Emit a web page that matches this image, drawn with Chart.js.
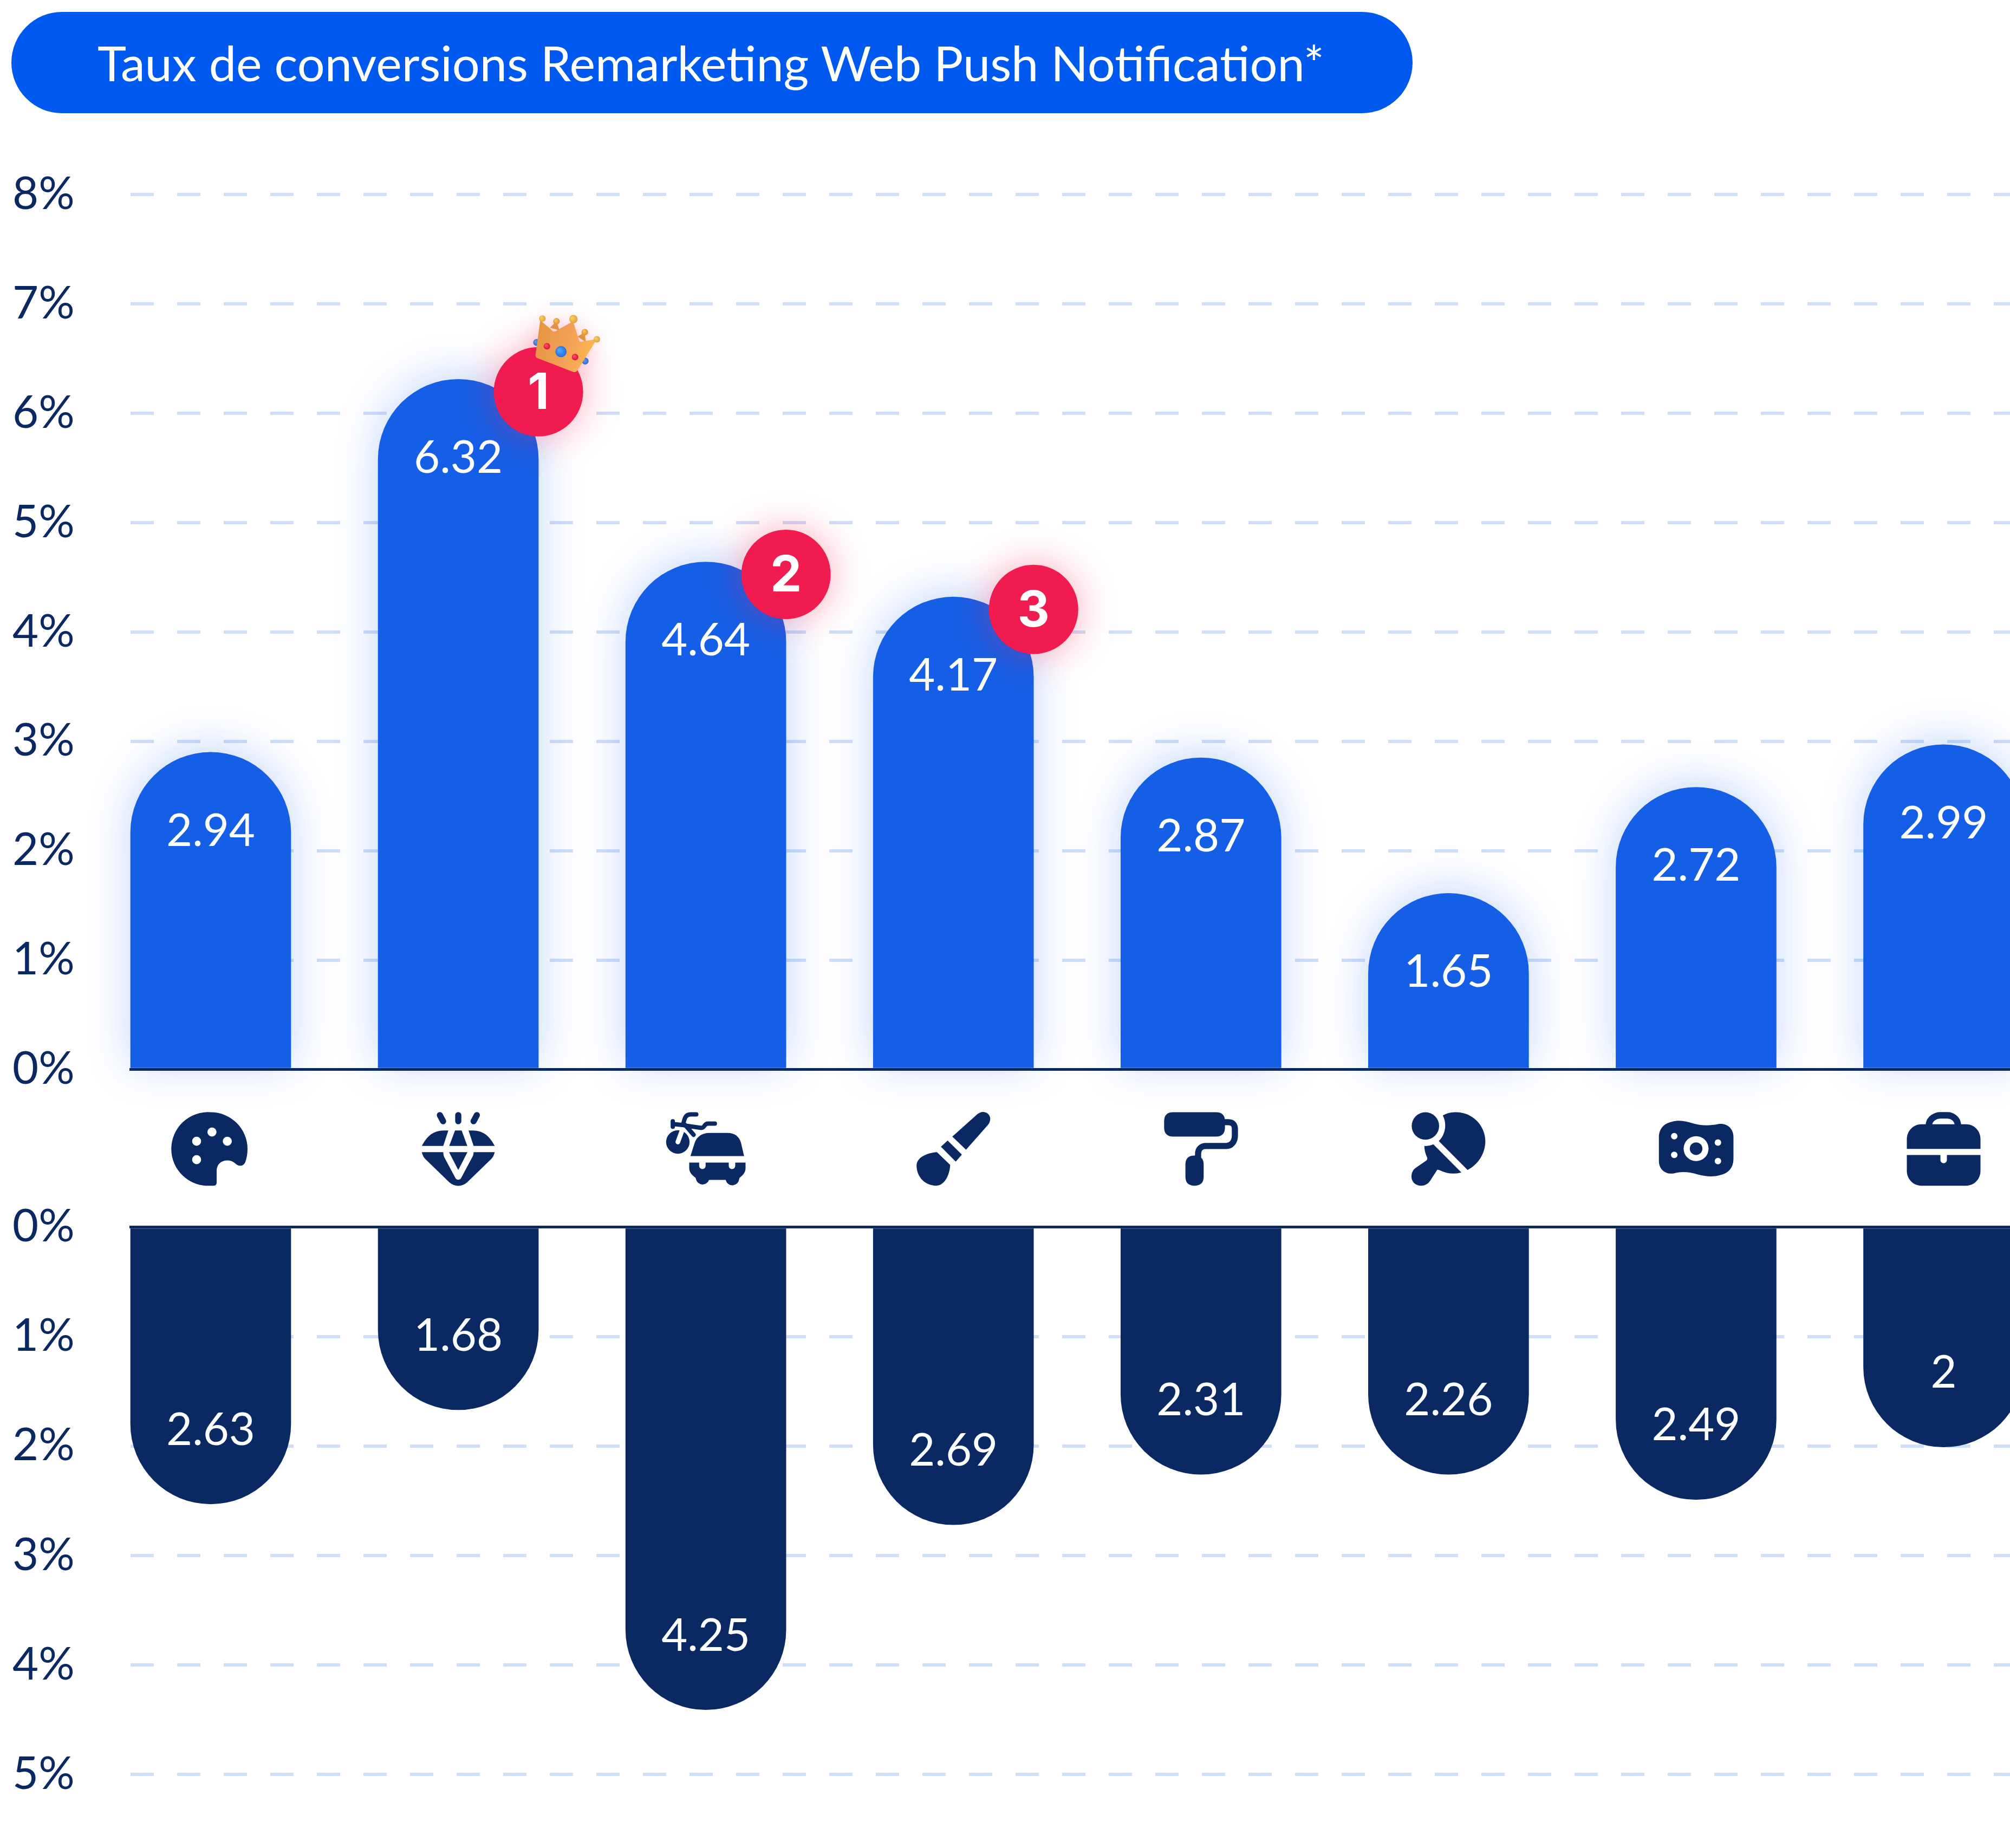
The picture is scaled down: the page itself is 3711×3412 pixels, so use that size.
<!DOCTYPE html>
<html lang="fr">
<head>
<meta charset="utf-8">
<title>Taux de conversions Remarketing Web Push Notification</title>
<script src="https://cdn.jsdelivr.net/npm/chart.js@4"></script>
<style>
html, body { margin: 0; padding: 0; background: #fff; }
#page { position: relative; width: 3711px; height: 3412px; overflow: hidden; }
#pill {
    position: absolute; left: 21px; top: 22px; width: 2587px; height: 187px;
    border-radius: 94px; background: #0059ee; color: #fff;
    font: 400 90px Lato, sans-serif; line-height: 187px; white-space: nowrap;
}
#pill span { position: absolute; left: 159px; }
canvas { position: absolute; left: 0; display: block; }
</style>
</head>
<body>
<div id="page">
    <div id="pill"><span>Taux de conversions Remarketing Web Push Notification*</span></div>
    <canvas id="upper" width="3711" height="2210" style="top:0"></canvas>
    <canvas id="lower" width="3711" height="1202" style="top:2210px"></canvas>
</div>

<script>
// categories, one icon each (no text labels in the picture)
const categories = ["palette", "diamant", "vehicule", "pinceau", "rouleau", "raquette", "eponge", "mallette"];

// numbers printed inside the bars
const upperLabels = ["2.94", "6.32", "4.64", "4.17", "2.87", "1.65", "2.72", "2.99"];
const lowerLabels = ["2.63", "1.68", "4.25", "2.69", "2.31", "2.26", "2.49", "2"];

// bar lengths as read against the axes of the picture
const upperValues = [2.90, 6.31, 4.64, 4.32, 2.85, 1.61, 2.58, 2.97];
const lowerValues = [2.53, 1.67, 4.41, 2.72, 2.26, 2.26, 2.49, 2.01];

// tick ranges
const upperMax = 8;
const lowerMax = 5;

// the three best bars, by category index
const rankedBars = [1, 2, 3];

const NAVY = "#0a2963";
const BLUE = "#155fe6";
const RED = "#f01c50";
const GRID = "#cfdff8";
const FONT = "Lato, sans-serif";


///////////////////////////////////////////////////////////////////////////////
// icons, drawn at 3 units per pixel
function circ(x, y, r)
{
    return `M${x - r} ${y}a${r} ${r} 0 1 0 ${2 * r} 0a${r} ${r} 0 1 0 ${-2 * r} 0Z`;
}

const icons =
{
    palette:
    {
        cx: 238, top: 40,
        fill: ["M238 40A204 204 0 1 0 238 447L255 447Q271 447 271 430L271 365C271 330 295 307 330 307C350 307 365 315 378 327C395 342 420 340 430 315C438 292 442 268 442 243A204 204 0 0 0 238 40Z"],
        holes: [circ(245, 150, 25), circ(160, 201, 25), circ(330, 201, 25), circ(160, 303, 25)]
    },
    diamant:
    {
        cx: 230, top: 40,
        fill: [
            "M175 141L147 227L28 227C55 175 90 141 150 141Z",
            "M212 141L249 141L280 227L180 227Z",
            "M287 141L315 227L432 227C405 175 370 141 310 141Z",
            "M28 261L147 261C147 275 150 285 156 296L213 402C220 418 240 418 247 402L304 296C310 285 315 275 315 261L432 261C428 280 420 292 410 302L280 428C250 455 210 455 180 428L50 302C40 292 32 280 28 261Z",
            "M179 261L281 261L230 360Z"
        ],
        lines: [{d: "M128 56L146 90M230 56L230 90M333 56L315 90", w: 34}]
    },
    vehicule:
    {
        cx: 250, top: 25,
        fill: [
            "M165 268L188 195C200 160 230 140 270 140L370 140C410 140 435 160 445 195L462 268Z",
            "M158 304L213 304L213 322A18 18 0 0 0 249 322L249 304L377 304L377 322A18 18 0 0 0 413 322L413 304L470 304L470 335C470 360 455 375 437 388L435 395A38 38 0 0 1 360 400L268 400A38 38 0 0 1 195 395L193 388C175 375 158 360 158 335Z",
            circ(95, 190, 65)
        ],
        lines: [
            {d: "M197 37L165 37C140 37 132 55 125 92M67 75L67 105M67 90L125 96M135 95L182 150M130 98L225 112C245 112 240 88 262 88L300 88", w: 24}
        ],
        whiteLines: [{d: "M95 190L120 122", w: 26}]
    },
    pinceau:
    {
        cx: 216, top: 40,
        fill: [
            "M210 175L350 50C375 30 400 38 413 55C425 72 420 95 408 110L286 248Z",
            "M147 231L184 197L263 275L229 314Z",
            "M125 261L198 332C198 370 175 447 120 447C60 447 12 400 12 335C12 290 70 265 125 261Z"
        ]
    },
    rouleau:
    {
        cx: 204, top: 0,
        fill: [
            "M50 0L287 0Q337 0 337 50L337 85Q337 135 287 135L50 135Q0 135 0 85L0 50Q0 0 50 0Z",
            "M118 290Q118 240 168 240Q219 240 219 290L219 357Q219 407 168 407Q118 407 118 357Z"
        ],
        lines: [{d: "M330 55L355 55C385 55 392 75 392 95L392 130C392 165 370 187 345 187L230 187C205 187 188 205 188 230L188 290", w: 34}]
    },
    raquette:
    {
        cx: 252, top: 40,
        fill: [
            circ(124, 116, 76),
            "M220 58C250 42 270 40 295 40C385 40 456 115 456 200C456 270 415 330 358 360L198 200C230 170 248 110 220 58Z",
            "M118 227C135 228 155 225 168 218L323 374C285 385 240 380 200 360L190 358L150 420C130 450 90 455 65 435C40 415 40 370 70 348L130 307Q137 300 133 290C125 272 118 250 118 227Z"
        ]
    },
    eponge:
    {
        cx: 220, top: 40,
        fill: ["M14 180C14 125 50 100 85 93C130 80 170 92 210 104C250 115 300 115 340 106C390 97 427 130 427 175L427 300C427 345 400 375 365 385C320 400 280 398 230 385C180 370 140 368 100 378C55 388 14 360 14 310Z"],
        holes: [circ(99, 173, 18), circ(99, 276, 18), circ(341, 208, 18), circ(341, 311, 18), circ(220, 242, 69)],
        inner: [circ(220, 242, 35)]
    },
    mallette:
    {
        cx: 204, top: 0,
        fill: [
            "M80 67L328 67C375 67 408 105 408 150L408 203L0 203L0 150C0 105 35 67 80 67Z",
            "M0 237L186 237L186 265A18 18 0 0 0 222 265L222 237L408 237L408 325C408 370 375 407 328 407L80 407C35 407 0 370 0 325Z"
        ],
        lines: [{d: "M122 75L122 70C125 35 160 17 185 17L225 17C250 17 280 35 283 70L283 75", w: 36}]
    }
};

function drawIcon(ctx, icon, x, y)
{
    ctx.save();
    ctx.translate(x - icon.cx / 3, y);
    ctx.scale(1 / 3, 1 / 3);
    ctx.translate(0, -icon.top);
    ctx.lineCap = "round";
    ctx.lineJoin = "round";

    ctx.fillStyle = NAVY;
    ctx.strokeStyle = NAVY;
    (icon.fill || []).forEach(d => ctx.fill(new Path2D(d)));
    (icon.lines || []).forEach(l => { ctx.lineWidth = l.w; ctx.stroke(new Path2D(l.d)); });

    ctx.fillStyle = "#fff";
    ctx.strokeStyle = "#fff";
    (icon.holes || []).forEach(d => ctx.fill(new Path2D(d)));
    (icon.whiteLines || []).forEach(l => { ctx.lineWidth = l.w; ctx.stroke(new Path2D(l.d)); });

    ctx.fillStyle = NAVY;
    (icon.inner || []).forEach(d => ctx.fill(new Path2D(d)));
    ctx.restore();
}


///////////////////////////////////////////////////////////////////////////////
// crown on the first badge, drawn at 3 units per pixel, badge centre at (288, 490)
function drawCrown(ctx, x, y)
{
    const ball = (bx, by, r, light, dark) =>
    {
        let g = ctx.createRadialGradient(bx - r / 3, by - r / 3, r / 5, bx, by, r);
        g.addColorStop(0, light);
        g.addColorStop(1, dark);
        ctx.fillStyle = g;
        ctx.beginPath();
        ctx.arc(bx, by, r, 0, Math.PI * 2);
        ctx.fill();
    };

    ctx.save();
    ctx.translate(x - 288 / 3, y - 490 / 3);
    ctx.scale(1 / 3, 1 / 3);

    // back of the crown
    ball(278, 217, 19, "#4aa3ff", "#1f6fd0");
    ball(547, 320, 19, "#4aa3ff", "#1f6fd0");
    ctx.fillStyle = "#e0a23e";
    ctx.fill(new Path2D("M352 135L388 100L405 150ZM505 185L545 160L550 215Z"));
    ball(388, 100, 18, "#f6cf5c", "#d99b2e");
    ball(545, 160, 18, "#f6cf5c", "#d99b2e");

    // front
    let g = ctx.createLinearGradient(272, 200, 612, 300);
    g.addColorStop(0, "#e3963f");
    g.addColorStop(0.5, "#f3a057");
    g.addColorStop(1, "#fcbb4e");
    ctx.save();
    ctx.shadowColor = "rgba(240, 28, 80, 0.28)";
    ctx.shadowBlur = 45;
    ctx.fillStyle = g;
    ctx.fill(new Path2D("M272 285L298 95L355 142C365 160 380 160 395 147L480 100L513 205C516 215 525 215 535 211L612 198L505 370C498 382 485 383 475 378L285 305C275 300 270 295 272 285Z"));
    ctx.restore();

    ball(310, 85, 18, "#f6cf5c", "#e0a23e");
    ball(482, 88, 23, "#f6cf5c", "#e0a23e");
    ball(612, 200, 18, "#f6cf5c", "#e0a23e");
    ball(335, 238, 18, "#ff4d5e", "#d8103f");
    ball(413, 268, 31, "#4aa3ff", "#1f6fe0");
    ball(491, 298, 18, "#ff4d5e", "#d8103f");
    ctx.restore();
}


///////////////////////////////////////////////////////////////////////////////
// text inside the bars
function barLabels(labels)
{
    return {
        id: "barLabels",
        afterDatasetsDraw(chart)
        {
            let ctx = chart.ctx;
            let sign = chart.scales.y.options.reverse ? -1 : 1;
            ctx.save();
            ctx.fillStyle = "#fff";
            ctx.font = "400 83px " + FONT;
            ctx.textAlign = "center";
            ctx.textBaseline = "middle";
            chart.getDatasetMeta(0).data.forEach((bar, i) =>
            {
                ctx.fillText(labels[i], bar.x, bar.y + sign * 141 + 5);
            });
            ctx.restore();
        }
    };
}

// soft blue glow behind the upper bars
const barGlow =
{
    id: "barGlow",
    beforeDatasetDraw(chart)
    {
        let ctx = chart.ctx;
        ctx.save();
        ctx.shadowColor = "rgba(21, 95, 230, 0.25)";
        ctx.shadowBlur = 80;
        ctx.shadowOffsetY = -8;
    },
    afterDatasetDraw(chart)
    {
        chart.ctx.restore();
    }
};

// red rank badges and the crown
const rankBadges =
{
    id: "rankBadges",
    afterDatasetsDraw(chart)
    {
        let ctx = chart.ctx;
        let bars = chart.getDatasetMeta(0).data;
        rankedBars.forEach((index, rank) =>
        {
            let x = bars[index].x + bars[index].width / 2;
            let y = bars[index].y + 23;

            ctx.save();
            ctx.shadowColor = "rgba(240, 28, 80, 0.38)";
            ctx.shadowBlur = 70;
            ctx.fillStyle = RED;
            ctx.beginPath();
            ctx.arc(x, y, 82.5, 0, Math.PI * 2);
            ctx.fill();
            ctx.restore();

            ctx.save();
            ctx.fillStyle = "#fff";
            ctx.font = "700 92px Inter, sans-serif";
            ctx.textAlign = "center";
            ctx.textBaseline = "middle";
            ctx.fillText(String(rank + 1), x, y + 4);
            ctx.restore();

            if(rank === 0)
                drawCrown(ctx, x, y);
        });
    }
};

// category icons under the upper axis
const categoryIcons =
{
    id: "categoryIcons",
    afterDraw(chart)
    {
        let xScale = chart.scales.x;
        categories.forEach((name, i) =>
        {
            drawIcon(chart.ctx, icons[name], xScale.getPixelForValue(i), chart.chartArea.bottom + 79);
        });
    }
};


///////////////////////////////////////////////////////////////////////////////
function drawChart(id, labels, values, maxValue, color, reversed, padding, extraPlugins)
{
    let context = document.getElementById(id).getContext("2d");

    return new Chart(context,
    {
        type: "bar",
        data:
        {
            datasets:
            [{
                data: values.map((v, i) => ({x: i, y: v})),
                backgroundColor: color,
                borderWidth: 0,
                borderRadius: 148,
                borderSkipped: "start",
                barThickness: 296,
                clip: false
            }]
        },
        options:
        {
            responsive: false,
            animation: false,
            devicePixelRatio: 1,
            layout: {padding: padding},
            plugins:
            {
                legend: {display: false},
                title: {display: false},
                tooltip: {enabled: false}
            },
            scales:
            {
                x:
                {
                    type: "linear",
                    position: reversed ? "top" : "bottom",
                    offset: false,
                    bounds: "data",
                    min: -0.3238,
                    max: 7.268,
                    ticks: {display: false},
                    grid: {display: false, drawTicks: false},
                    border: {display: true, color: NAVY, width: 5, z: 1}
                },
                y:
                {
                    reverse: reversed,
                    min: 0,
                    max: maxValue,
                    afterFit: scale => { scale.width = 218; },
                    grid:
                    {
                        drawTicks: false,
                        lineWidth: 6,
                        color: c => c.tick.value === 0 ? "transparent" : GRID
                    },
                    border: {display: false, dash: [43, 43]},
                    ticks:
                    {
                        stepSize: 1,
                        color: NAVY,
                        crossAlign: "far",
                        font: {family: FONT, size: 83, weight: "400"},
                        callback: v => v + "%"
                    }
                }
            }
        },
        plugins: [barLabels(labels)].concat(extraPlugins)
    });
}

document.addEventListener("DOMContentLoaded", e =>
{
    drawChart("upper", upperLabels, upperValues, upperMax, BLUE, false,
        {left: 23, top: 359, right: 0, bottom: 2210 - 1974.5},
        [barGlow, rankBadges, categoryIcons]);

    drawChart("lower", lowerLabels, lowerValues, lowerMax, NAVY, true,
        {left: 23, top: 2265.5 - 2210, right: 0, bottom: 3412 - 3276},
        []);
});
</script>
</body>
</html>
